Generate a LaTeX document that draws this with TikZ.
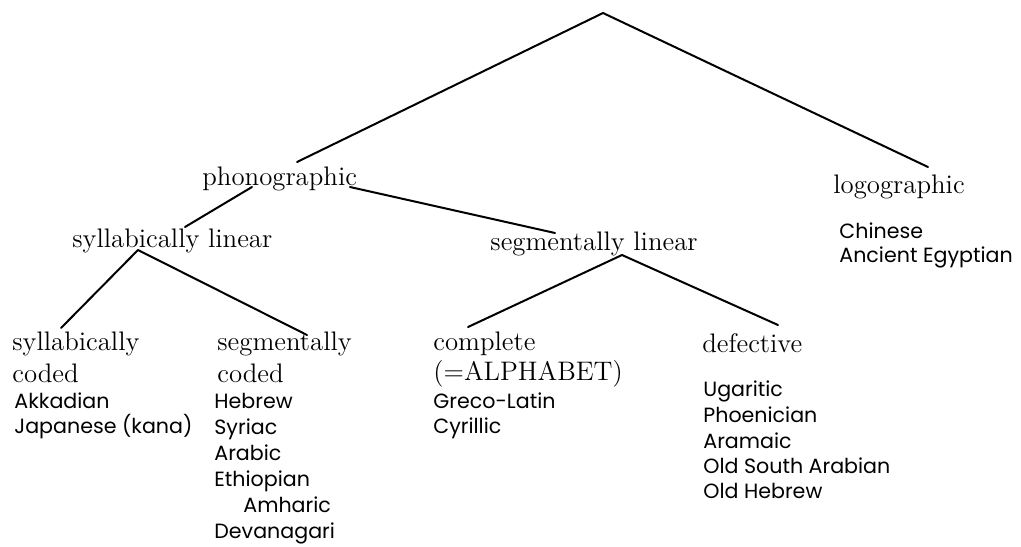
\documentclass[tikz,border=0pt]{standalone}
\usepackage{fontspec}
\newfontfamily\listfont{Poppins}
\usetikzlibrary{calc}
\tikzset{
  lab/.style={anchor=base west, inner sep=0pt, font=\fontsize{13.4}{16}\selectfont},
  item/.style={anchor=base west, inner sep=0pt, font=\listfont\fontsize{10.3}{12}\selectfont},
  branch/.style={line width=1pt, line cap=round, line join=round}
}
\begin{document}
\begin{tikzpicture}[x=0.5pt,y=-0.5pt]
\useasboundingbox (0,0) rectangle (1021,546);
\coordinate (root) at (603,13);
% level 1
\node[lab] (phon) at (202,185) {phonographic};
\node[lab] (logo) at (833,193) {logographic};
\node[item] (chin) at (839,238) {Chinese};
\node[item] (egyp) at (839,262) {Ancient Egyptian};
% level 2
\node[lab] (sylL) at (72,247) {syllabically linear};
\node[lab] (segL) at (490,250) {segmentally linear};
% level 3
\node[lab] (sylC) at (12,350) {syllabically};
\node[lab] (sylC2) at (12,382) {coded};
\node[item] (akk) at (14,408) {Akkadian};
\node[item] (jap) at (14,433) {Japanese (kana)};
\node[lab] (segC) at (217,350) {segmentally};
\node[lab] (segC2) at (217,382) {coded};
\node[item] (heb) at (214,408) {Hebrew};
\node[item] (syr) at (214,434) {Syriac};
\node[item] (arab) at (214,460) {Arabic};
\node[item] (eth) at (214,486) {Ethiopian};
\node[item] (amh) at (243,512) {Amharic};
\node[item] (dev) at (214,538) {Devanagari};
\node[lab] (comp) at (433,350) {complete};
\node[lab] (comp2) at (433,380) {(=ALPHABET)};
\node[item] (greco) at (433,408) {Greco-Latin};
\node[item] (cyr) at (433,433) {Cyrillic};
\node[lab] (def) at (702,352) {defective};
\node[item] (uga) at (703,396) {Ugaritic};
\node[item] (phoe) at (703,422) {Phoenician};
\node[item] (aram) at (703,448) {Aramaic};
\node[item] (osa) at (703,473) {Old South Arabian};
\node[item] (oheb) at (703,498) {Old Hebrew};
% connectors
\draw[branch] ($(phon.base west)+(95,-23)$) -- (root) -- ($(logo.base west)+(95,-26)$);
\draw[branch] ($(sylL.base west)+(113,-20)$) -- ($(phon.base west)+(50,2)$);
\draw[branch] ($(phon.base west)+(148,2)$) -- ($(segL.base west)+(65,-17)$);
\draw[branch] ($(sylC.base west)+(49,-22)$) -- ($(sylL.base west)+(66,3)$) -- ($(segC.base west)+(90,-15)$);
\draw[branch] ($(comp.base west)+(35,-23)$) -- ($(segL.base west)+(132,5)$) -- ($(def.base west)+(76,-27)$);
\end{tikzpicture}
\end{document}
